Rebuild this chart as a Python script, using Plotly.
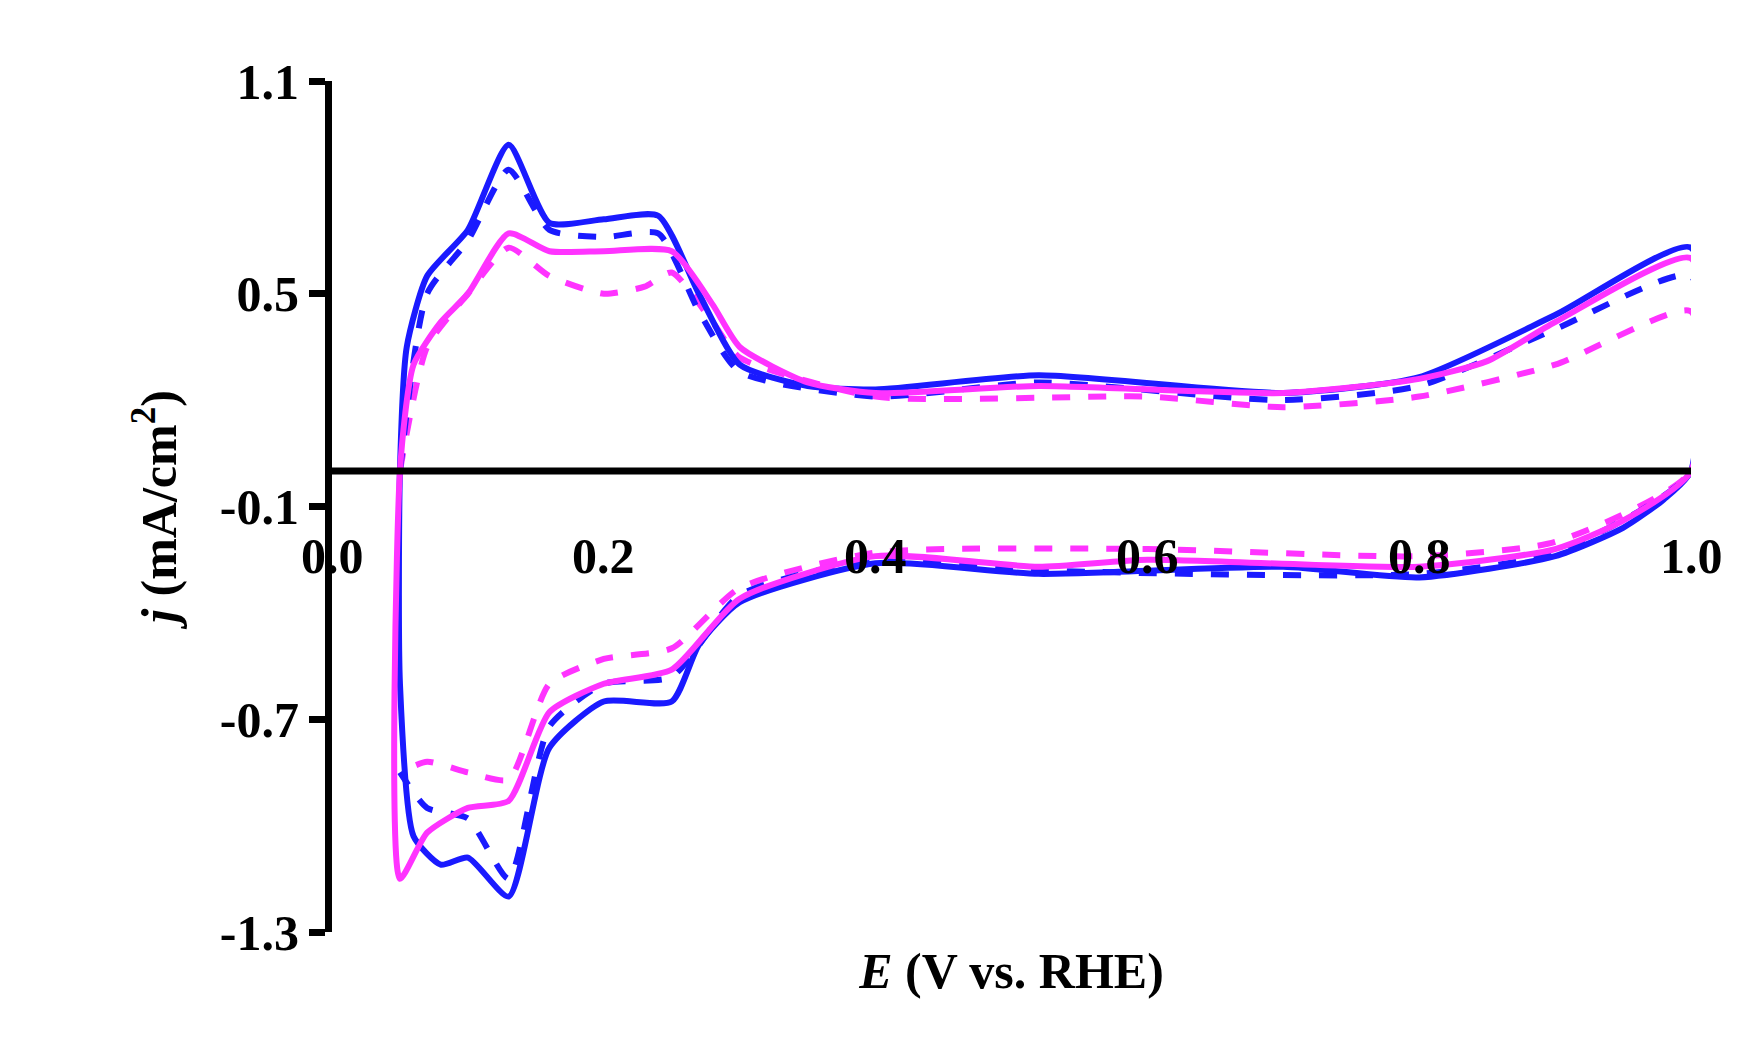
import plotly.graph_objects as go

# blue solid
bs_x = [0.05, 0.055, 0.07, 0.1, 0.13, 0.16, 0.2, 0.24, 0.27, 0.3, 0.35, 0.4, 0.52, 0.7, 0.8, 0.9, 1.0,
        1.0, 0.98, 0.95, 0.9, 0.8, 0.7, 0.52, 0.4, 0.3, 0.27, 0.25, 0.2, 0.16, 0.13, 0.1, 0.08, 0.06, 0.05, 0.05]
bs_y = [0.0, 0.35, 0.55, 0.68, 0.92, 0.7, 0.71, 0.72, 0.5, 0.3, 0.24, 0.23, 0.27, 0.22, 0.265, 0.44, 0.63,
        0.0, -0.08, -0.16, -0.24, -0.30, -0.27, -0.29, -0.26, -0.37, -0.49, -0.65, -0.65, -0.78, -1.2, -1.09, -1.11, -1.03, -0.6, 0.0]
# blue dashed
bd_x = [0.05, 0.07, 0.1, 0.13, 0.16, 0.2, 0.24, 0.27, 0.3, 0.4, 0.52, 0.7, 0.8, 0.9, 1.0,
        1.0, 0.9, 0.8, 0.52, 0.4, 0.3, 0.25, 0.2, 0.16, 0.13, 0.1, 0.07, 0.05]
bd_y = [0.0, 0.5, 0.65, 0.85, 0.68, 0.66, 0.67, 0.45, 0.28, 0.21, 0.25, 0.2, 0.24, 0.4, 0.55,
        0.0, -0.23, -0.29, -0.28, -0.25, -0.35, -0.58, -0.6, -0.72, -1.15, -0.98, -0.95, -0.85]
# magenta solid
ms_x = [0.05, 0.06, 0.08, 0.1, 0.13, 0.16, 0.2, 0.25, 0.28, 0.3, 0.35, 0.4, 0.52, 0.7, 0.8, 0.85, 0.9, 1.0,
        1.0, 0.95, 0.9, 0.8, 0.6, 0.52, 0.4, 0.3, 0.25, 0.2, 0.16, 0.13, 0.1, 0.07, 0.05, 0.05]
ms_y = [0.0, 0.3, 0.42, 0.5, 0.67, 0.62, 0.62, 0.62, 0.47, 0.35, 0.25, 0.22, 0.24, 0.22, 0.26, 0.31, 0.42, 0.6,
        0.0, -0.14, -0.22, -0.27, -0.25, -0.27, -0.24, -0.36, -0.56, -0.6, -0.68, -0.93, -0.95, -1.02, -1.15, 0.0]
# magenta dashed
md_x = [0.05, 0.07, 0.1, 0.13, 0.16, 0.2, 0.23, 0.25, 0.28, 0.3, 0.4, 0.6, 0.7, 0.8, 0.9, 1.0,
        1.0, 0.9, 0.8, 0.6, 0.4, 0.3, 0.25, 0.2, 0.16, 0.13, 0.1, 0.07, 0.05]
md_y = [0.0, 0.35, 0.5, 0.63, 0.55, 0.5, 0.52, 0.56, 0.42, 0.32, 0.21, 0.21, 0.18, 0.21, 0.3, 0.45,
        0.0, -0.2, -0.24, -0.22, -0.23, -0.33, -0.5, -0.53, -0.6, -0.87, -0.85, -0.82, -0.85]

x_ticks = [0.0, 0.2, 0.4, 0.6, 0.8, 1.0]
y_ticks = [-1.3, -0.7, -0.1, 0.5, 1.1]

fig = go.Figure()
for xs, ys, col, dash in [(md_x, md_y, "#ff33ff", "dash"), (bd_x, bd_y, "#1a1aff", "dash"),
                          (bs_x, bs_y, "#1a1aff", "solid"), (ms_x, ms_y, "#ff33ff", "solid")]:
    fig.add_trace(go.Scatter(x=xs, y=ys, mode="lines", line=dict(color=col, width=6, dash=dash, shape="spline", smoothing=0.6)))

font = dict(family="Liberation Serif", size=50, color="black")
fig.add_hline(y=0, line=dict(color="black", width=7))
for t in x_ticks:
    fig.add_annotation(x=t, y=-0.24, text="<b>%.1f</b>" % t, showarrow=False, font=font)

fig.update_layout(
    width=1744, height=1056, showlegend=False,
    plot_bgcolor="white", paper_bgcolor="white",
    margin=dict(l=324, r=61, t=73, b=132),
    xaxis=dict(range=[0, 1.0], showgrid=False, zeroline=False, showticklabels=False, showline=False,
               title=dict(text="<b><i>E</i> (V vs. RHE)</b>", font=font, standoff=20)),
    yaxis=dict(range=[-1.3, 1.1], tickvals=y_ticks, ticktext=["<b>%.1f</b>" % v for v in y_ticks],
               showgrid=False, zeroline=False, showline=True, linecolor="black", linewidth=7,
               ticks="outside", ticklen=16, tickwidth=7, tickcolor="black", tickfont=font,
               title=dict(text="<b><i>j</i> (mA/cm<sup>2</sup>)</b>", font=font, standoff=30)),
)
fig.write_html("out.html")
